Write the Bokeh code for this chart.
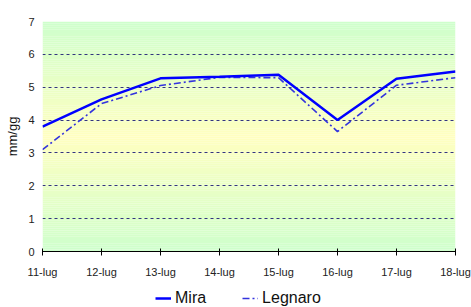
import numpy as np
from bokeh.plotting import figure
from bokeh.layouts import column
from bokeh.models import FixedTicker, Legend, LegendItem, Range1d
from bokeh.embed import file_html
from bokeh.resources import INLINE

dates = ["11-lug", "12-lug", "13-lug", "14-lug", "15-lug", "16-lug", "17-lug", "18-lug"]
mira = [3.8, 4.63, 5.27, 5.32, 5.38, 4.0, 5.26, 5.48]
legnaro = [3.1, 4.5, 5.05, 5.3, 5.29, 3.65, 5.06, 5.29]
y_ticks = [0, 1, 2, 3, 4, 5, 6, 7]

x = list(range(len(dates)))

MIRA_STYLE = dict(line_color="#0000ff", line_width=2.5)
LEG_STYLE = dict(line_color="#3333dd", line_width=1.6, line_dash="7 3 2 3")

p = figure(width=471, height=280, output_backend="svg", toolbar_location=None,
           x_range=Range1d(0, len(dates) - 1), y_range=Range1d(0, 7),
           min_border_left=42, min_border_right=16, min_border_top=21, min_border_bottom=0)
p.outline_line_color = None
p.background_fill_color = "white"
p.border_fill_color = "white"

# gradient background (green - yellow - green)
n = 120
edges = np.linspace(0, 7, n + 1)
green = np.array([206, 255, 204])
yellow = np.array([255, 255, 192])
cols = []
for i in range(n):
    c = 0.5 * (edges[i] + edges[i + 1])
    t = 1 - abs(c - 3.5) / 3.5
    rgb = green + (yellow - green) * t
    cols.append("#%02x%02x%02x" % tuple(int(round(v)) for v in rgb))
p.quad(left=0, right=len(dates) - 1, bottom=edges[:-1], top=edges[1:] + 0.001,
       fill_color=cols, line_color=None, level="image")

# grid
p.xgrid.grid_line_color = None
p.ygrid.grid_line_color = "#333380"
p.ygrid.grid_line_dash = "3 3"
p.ygrid.grid_line_width = 1
p.ygrid.level = "underlay"
p.yaxis.ticker = FixedTicker(ticks=y_ticks)
p.xaxis.ticker = FixedTicker(ticks=x)
p.xaxis.major_label_overrides = {i: d for i, d in enumerate(dates)}

p.line(x, legnaro, **LEG_STYLE)
p.line(x, mira, **MIRA_STYLE)

for ax in (p.xaxis, p.yaxis):
    ax.major_label_text_font = "Liberation Sans"
    ax.major_label_text_font_size = "11px"
    ax.major_label_text_color = "#222222"
    ax.minor_tick_line_color = None

p.yaxis.axis_line_color = None
p.yaxis.major_tick_line_color = None
p.yaxis.major_tick_out = 0
p.yaxis.major_tick_in = 0
p.yaxis.major_label_standoff = 8
p.yaxis.axis_label = "mm/gg"
p.yaxis.axis_label_text_font = "Liberation Sans"
p.yaxis.axis_label_text_font_size = "13px"
p.yaxis.axis_label_text_font_style = "normal"
p.yaxis.axis_label_text_color = "#111111"
p.yaxis.axis_label_standoff = 5

p.xaxis.axis_line_color = "black"
p.xaxis.major_tick_line_color = "black"
p.xaxis.major_tick_in = 3
p.xaxis.major_tick_out = 4
p.xaxis.major_label_standoff = 10

# legend strip below the chart (single-point lines draw nothing, only legend swatches)
leg = figure(width=471, height=27, output_backend="svg", toolbar_location=None,
             x_axis_location=None, y_axis_location=None,
             min_border=0, min_border_left=0, min_border_right=0,
             min_border_top=0, min_border_bottom=0)
leg.outline_line_color = None
leg.xgrid.visible = False
leg.ygrid.visible = False
l1 = leg.line(x=x[:1], y=mira[:1], **MIRA_STYLE)
l2 = leg.line(x=x[:1], y=legnaro[:1], **LEG_STYLE)
legend = Legend(items=[LegendItem(label="Mira", renderers=[l1]),
                       LegendItem(label="Legnaro", renderers=[l2])],
                orientation="horizontal", location=(113, 0),
                label_text_font="Liberation Sans", label_text_font_size="16px",
                label_text_color="#111111",
                label_height=16, glyph_height=16,
                glyph_width=16, label_standoff=4, spacing=36, padding=0, margin=0,
                border_line_color=None, background_fill_alpha=0)
leg.add_layout(legend, "center")

layout = column(p, leg, spacing=0)
open("out.html", "w").write(file_html(layout, INLINE))
